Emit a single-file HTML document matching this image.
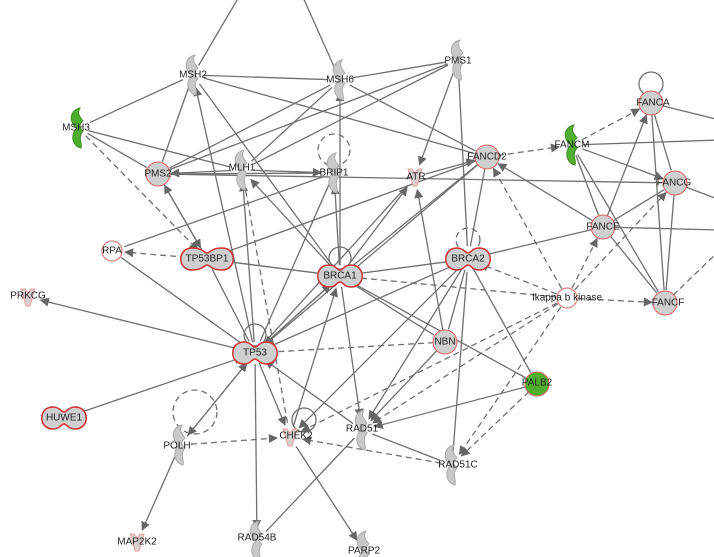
<!DOCTYPE html>
<html><head><meta charset="utf-8"><style>
html,body{margin:0;padding:0;background:#fff;width:714px;height:557px;overflow:hidden}
svg{display:block}
text{font-family:"Liberation Sans",sans-serif;font-size:10px;fill:#222;text-anchor:middle;dominant-baseline:central}
</style></head><body>
<svg id="s" width="714" height="557" viewBox="0 0 714 557">
<defs><marker id="a" viewBox="0 0 10 10" refX="9" refY="5" markerWidth="7" markerHeight="7" orient="auto"><path d="M0,0L10,5L0,10z" fill="#666"/></marker></defs>
<g id="e" stroke="#707070" stroke-width="1.3" fill="none"></g>
<g id="n"></g>
<g id="t">
<text x="193" y="75">MSH2</text><text x="340" y="80">MSH6</text><text x="458" y="61">PMS1</text>
<text x="76" y="128">MSH3</text><text x="158" y="174">PMS2</text><text x="242" y="168">MLH1</text>
<text x="334" y="173">BRIP1</text><text x="416" y="177">ATR</text><text x="487" y="157">FANCD2</text>
<text x="572" y="145">FANCM</text><text x="653" y="103">FANCA</text><text x="674" y="183">FANCG</text>
<text x="603" y="227">FANCE</text><text x="668" y="303">FANCF</text><text x="468" y="259">BRCA2</text>
<text x="340" y="276">BRCA1</text><text x="112" y="251">RPA</text><text x="207" y="259">TP53BP1</text>
<text x="28" y="296">PRKCG</text><text x="255" y="353">TP53</text><text x="445" y="342">NBN</text>
<text x="537" y="383">PALB2</text><text x="64" y="418">HUWE1</text><text x="177" y="446">POLH</text>
<text x="296" y="436">CHEK2</text><text x="362" y="429">RAD51</text><text x="458" y="465">RAD51C</text>
<text x="137" y="542">MAP2K2</text><text x="257" y="538">RAD54B</text><text x="364" y="551">PARP2</text>
<text x="567" y="298">Ikappa b kinase</text>
</g>
</svg>
<script>
var N={MSH2:[193,75,'c'],MSH6:[340,80,'c'],PMS1:[458,60,'c'],MSH3:[78,128,'cg'],PMS2:[158,174,'o'],MLH1:[242,170,'c'],BRIP1:[334,173,'c'],ATR:[415,177,'v'],FANCD2:[487,157,'o'],FANCM:[572,145,'cg'],FANCA:[651,103,'o'],FANCG:[675,183,'o'],FANCE:[603,227,'o'],FANCF:[665,303,'o'],BRCA2:[468,259,'p'],BRCA1:[340,276,'p'],RPA:[112,251,'w'],TP53BP1:[207,259,'p'],PRKCG:[28,297,'v'],TP53:[255,353,'p'],NBN:[445,342,'o'],PALB2:[537,384,'og'],HUWE1:[64,418,'p'],POLH:[180,445,'c'],CHEK2:[290,437,'v'],RAD51:[362,430,'c'],RAD51C:[452,465,'c'],MAP2K2:[137,542,'v'],RAD54B:[257,541,'c'],PARP2:[364,551,'c'],IKK:[567,298,'w'],T1:[240,-5,'x'],T2:[302,-5,'x'],R1:[720,120,'x'],R2:[720,140,'x'],R3:[720,230,'x'],R4:[720,200,'x'],R5:[720,250,'x']};
var E=[['MSH2','MSH6'],['MSH2','MSH3'],['MSH2','PMS2'],['MSH2','FANCD2'],['MSH2','BRCA1'],['TP53','MSH2',0,1],['MSH2','T1'],['MSH6','T2'],['MSH6','PMS1'],['MSH6','PMS2'],['MSH6','MLH1'],['MSH6','FANCD2'],['BRCA1','MSH6',0,1],['PMS1','MLH1'],['PMS1','ATR',0,1],['PMS1','BRCA2'],['PMS1','PMS2'],
['MSH3','MLH1'],['MSH3','PMS2'],['MSH3','TP53BP1',1,1],['MLH1','PMS2',0,1],['PMS2','BRIP1'],['TP53BP1','PMS2',0,1],['PMS2','TP53BP1',0,1],['PMS2','FANCG'],['MLH1','BRIP1',0,1],['TP53','MLH1',0,1],['MLH1','CHEK2',1,0],['BRCA1','MLH1',0,1],
['BRIP1','RPA'],['BRIP1','TP53'],['BRCA1','BRIP1',0,1],['ATR','FANCD2',0,1],['BRCA1','ATR',0,1],['ATR','TP53'],['NBN','ATR',0,1],['FANCD2','FANCM',1,1],['FANCD2','BRCA2'],['FANCD2','BRCA1'],['FANCE','FANCD2',0,1],['IKK','FANCD2',1,1],['FANCD2','TP53'],['FANCD2','TP53BP1'],
['FANCM','FANCA',1,1],['FANCM','FANCG',0,1],['FANCM','FANCF'],['FANCM','FANCE'],['FANCA','FANCG'],['FANCA','FANCF'],['FANCE','FANCA',0,1],['FANCA','R1'],['FANCM','R2'],['FANCG','FANCF'],['FANCE','FANCG'],['IKK','FANCG',1,1],['FANCG','R4'],['FANCE','BRCA2'],['FANCE','FANCF'],['FANCE','R3'],['IKK','FANCE',1,1],['FANCF','R5',1],
['BRCA2','BRCA1'],['BRCA2','TP53',0,1],['BRCA2','NBN'],['BRCA2','RAD51',0,1],['BRCA2','PALB2'],['BRCA2','CHEK2',0,1],['IKK','BRCA2',1,1],['IKK','BRCA1',1,1],['IKK','FANCF',1,1],['IKK','RAD51',1,1],['IKK','RAD51C',1,1],['IKK','CHEK2',1,1],
['BRCA1','TP53',0,1],['TP53','BRCA1',0,1],['BRCA1','TP53BP1'],['TP53BP1','BRCA1',0,1],['BRCA1','RAD51',0,1],['BRCA1','NBN'],['BRCA1','PALB2'],['CHEK2','BRCA1',0,1],['TP53BP1','RPA',1,1],['RPA','TP53'],['TP53BP1','TP53'],
['TP53','PRKCG',0,1],['HUWE1','TP53',0,1],['POLH','TP53',0,1],['TP53','POLH',1,1],['POLH','CHEK2',1,1],['POLH','MAP2K2',0,1],['TP53','CHEK2',0,1],['TP53','RAD54B',0,1],['RAD51','TP53',0,1],['NBN','TP53',1,1],['CHEK2','PARP2',0,1],['RAD51C','CHEK2',1,1],['RAD51','RAD54B'],['PALB2','RAD51',0,1],['RAD51','RAD51C'],['PALB2','RAD51C',1,1],['RAD51C','BRCA2'],['NBN','RAD51',0,1]];
var NS='http://www.w3.org/2000/svg',eg=document.getElementById('e'),ng=document.getElementById('n');
function mk(t,a,p){var e=document.createElementNS(NS,t);for(var k in a)e.setAttribute(k,a[k]);p.appendChild(e);return e}
E.forEach(function(d){var A=N[d[0]],B=N[d[1]];var dx=B[0]-A[0],dy=B[1]-A[1],L=Math.hypot(dx,dy);var r1=A[2]=='x'?0:11,r2=B[2]=='x'?0:13;
var at={x1:A[0]+dx/L*r1,y1:A[1]+dy/L*r1,x2:B[0]-dx/L*r2,y2:B[1]-dy/L*r2};if(d[2])at['stroke-dasharray']='6,4';if(d[3])at['marker-end']='url(#a)';mk('line',at,eg)});
[[651,84,12,0],[334,150,16,1],[468,240,12,1],[340,258,11,0],[255,335,11,0],[304,420,12,0],[195,412,22,1]].forEach(function(l){var at={cx:l[0],cy:l[1],r:l[2],fill:'none'};if(l[3])at['stroke-dasharray']='6,4';mk('circle',at,eg)});
var C='M2,-20 C-8,-18 -10,-6 -1,0 C-8,6 -6,18 3,20 C5,16 -1,10 5,3 C1,0 1,-4 5,-7 C1,-12 -1,-15 2,-20Z';
for(var k in N){var n=N[k],x=n[0],y=n[1],t=n[2];
if(t=='c'||t=='cg')mk('path',{d:C,transform:'translate('+x+','+y+')',fill:t=='cg'?'#4fae2e':'#c8c8c8',stroke:t=='cg'?'#3d8a22':'#aaa','stroke-width':1},ng);
else if(t=='o'||t=='og')mk('circle',{cx:x,cy:y,r:12,fill:t=='og'?'#4fae2e':'#cfcfcf',stroke:'#e06060','stroke-width':1},ng);
else if(t=='w')mk('circle',{cx:x,cy:y,r:10,fill:'#fff',stroke:'#e08080','stroke-width':1.2},ng);
else if(t=='p'){var w=k=='TP53BP1'?15:11;mk('path',{d:'M'+(x-w)+','+(y-11)+' C'+(x-w-15)+','+(y-11)+' '+(x-w-15)+','+(y+11)+' '+(x-w)+','+(y+11)+' C'+(x-4)+','+(y+11)+' '+(x-3)+','+(y+6)+' '+x+','+(y+6)+' C'+(x+3)+','+(y+6)+' '+(x+4)+','+(y+11)+' '+(x+w)+','+(y+11)+' C'+(x+w+15)+','+(y+11)+' '+(x+w+15)+','+(y-11)+' '+(x+w)+','+(y-11)+' C'+(x+4)+','+(y-11)+' '+(x+3)+','+(y-6)+' '+x+','+(y-6)+' C'+(x-3)+','+(y-6)+' '+(x-4)+','+(y-11)+' '+(x-w)+','+(y-11)+'Z',fill:'#cfcfcf',stroke:'#d03030','stroke-width':1.5},ng)}
else if(t=='v')mk('path',{d:'M'+(x-7)+','+(y-8)+' L'+(x-3)+','+(y-8)+' L'+x+','+(y-4)+' L'+(x+3)+','+(y-8)+' L'+(x+7)+','+(y-8)+' L'+(x+4)+','+(y+2)+' L'+(x+2)+','+(y+9)+' L'+(x-2)+','+(y+9)+' L'+(x-4)+','+(y+2)+'Z',fill:'#d8d0d0',stroke:'#e8a0a0','stroke-width':1},ng);}
</script>
</body></html>
